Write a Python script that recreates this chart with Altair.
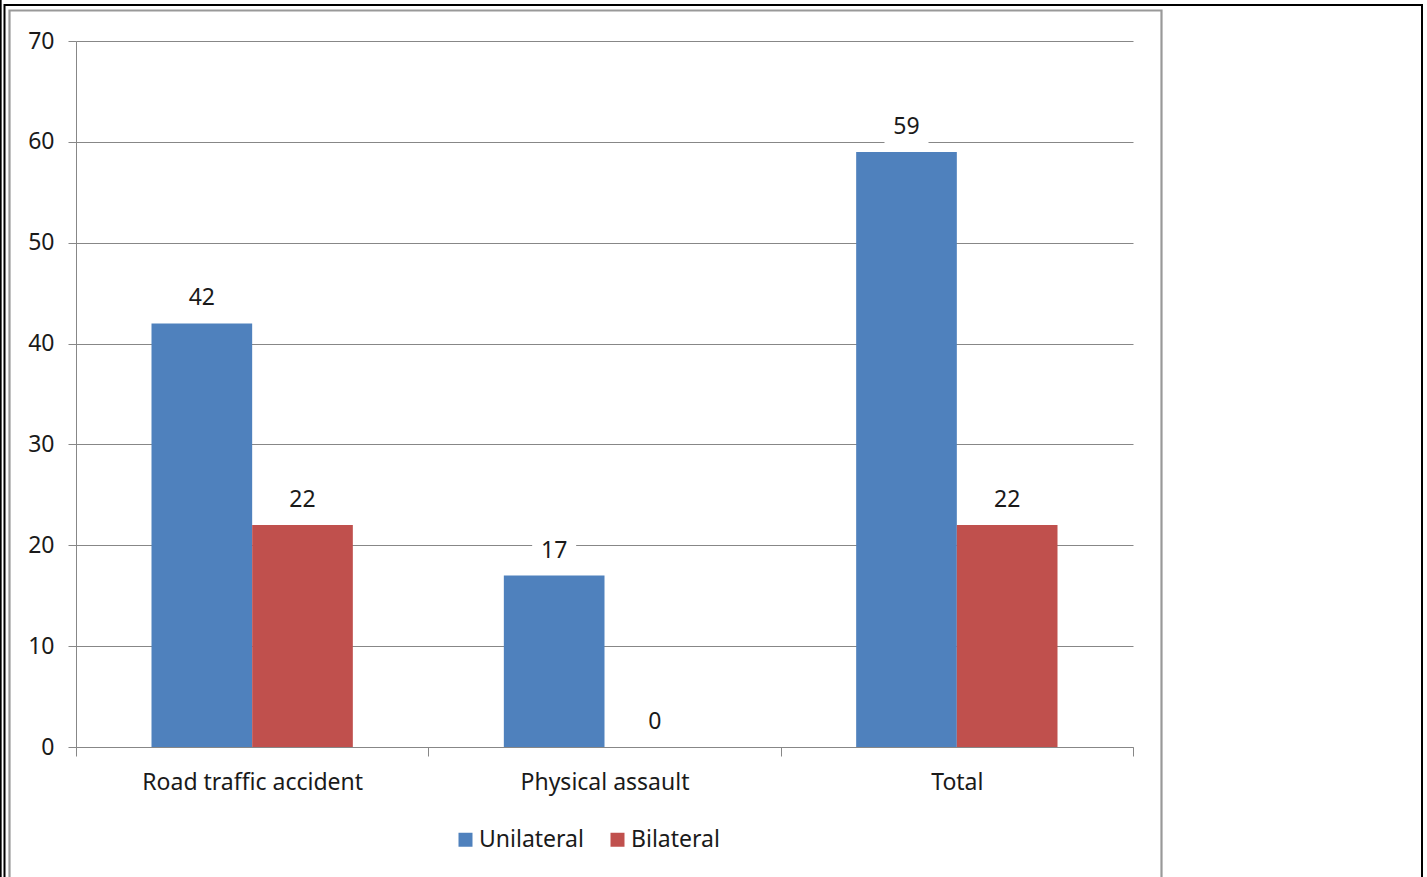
import altair as alt
import pandas as pd

# Injury mechanism counts by side (unilateral vs bilateral)
categories = ["Road traffic accident", "Physical assault", "Total"]
series = ["Unilateral", "Bilateral"]
unilateral = [42, 17, 59]
bilateral = [22, 0, 22]
y_ticks = [0, 10, 20, 30, 40, 50, 60, 70]

colors = ["#4F81BD", "#C0504D"]
FONT = "Noto Sans"
TEXT = "#1a1a1a"
GRID = "#878787"

rows = []
for cat, u, b in zip(categories, unilateral, bilateral):
    rows.append({"category": cat, "series": series[0], "value": u})
    rows.append({"category": cat, "series": series[1], "value": b})
df = pd.DataFrame(rows)

x_enc = alt.X(
    "category:N",
    sort=categories,
    scale=alt.Scale(paddingInner=0, paddingOuter=0),
    axis=alt.Axis(
        title=None,
        labelAngle=0,
        labelLimit=0,
        tickBand="extent",
        tickSize=9,
        labelPadding=15,
        labelFont=FONT,
        labelFontSize=23,
        labelColor=TEXT,
        domainColor=GRID,
        tickColor=GRID,
        grid=False,
    ),
)
xoff_enc = alt.XOffset(
    "series:N", sort=series, scale=alt.Scale(paddingInner=0, paddingOuter=0.75)
)
y_enc = alt.Y(
    "value:Q",
    scale=alt.Scale(domain=[0, 70], nice=False),
    axis=alt.Axis(
        title=None,
        values=y_ticks,
        tickSize=8,
        labelPadding=14,
        labelFont=FONT,
        labelFontSize=23,
        labelColor=TEXT,
        domainColor=GRID,
        tickColor=GRID,
        gridColor=GRID,
        gridWidth=1,
    ),
)
color_enc = alt.Color(
    "series:N",
    sort=series,
    scale=alt.Scale(domain=series, range=colors),
    legend=alt.Legend(
        title=None,
        orient="none",
        direction="horizontal",
        legendX=378,
        legendY=787,
        symbolType="square",
        symbolSize=196,
        symbolStrokeWidth=0,
        labelFont=FONT,
        labelFontSize=23,
        labelColor=TEXT,
        labelOffset=2,
        columnPadding=22,
        padding=0,
    ),
)

bars = alt.Chart(df).mark_bar(opacity=1).encode(
    x=x_enc, xOffset=xoff_enc, y=y_enc, color=color_enc
)

# white box behind each value label so gridlines break around the text
label_bg = alt.Chart(df).mark_square(
    size=1936, color="white", opacity=1, filled=True, yOffset=-25
).encode(x=x_enc, xOffset=xoff_enc, y=y_enc)

labels = alt.Chart(df).mark_text(
    font=FONT, fontSize=23, color=TEXT, baseline="middle", dy=-25
).encode(x=x_enc, xOffset=xoff_enc, y=y_enc, text="value:Q")

# page frame: outer black box, inner grey chart border, far-left rule
frame_src = pd.DataFrame({"k": [0]})
black_box = alt.Chart(frame_src).mark_rect(
    fill=None, stroke="black", strokeWidth=2
).encode(
    x=alt.value(-71.5), x2=alt.value(1346), y=alt.value(-36), y2=alt.value(870)
)
grey_box = alt.Chart(frame_src).mark_rect(
    fill=None, stroke="#999999", strokeWidth=2.2
).encode(
    x=alt.value(-66.5), x2=alt.value(1085.5), y=alt.value(-30.5), y2=alt.value(870)
)
left_rule = alt.Chart(frame_src).mark_rule(color="black", strokeWidth=1.7).encode(
    x=alt.value(-75.2), y=alt.value(-41), y2=alt.value(870)
)

chart = (
    alt.layer(black_box, grey_box, left_rule, bars, label_bg, labels)
    .properties(
        width=1057,
        height=706,
        autosize=alt.AutoSizeParams(type="none"),
        padding={"left": 76, "top": 41, "right": 294, "bottom": 130},
        background="white",
    )
    .configure_view(stroke=None)
)

chart.save("out.html", embed_options={"renderer": "svg", "actions": False})
